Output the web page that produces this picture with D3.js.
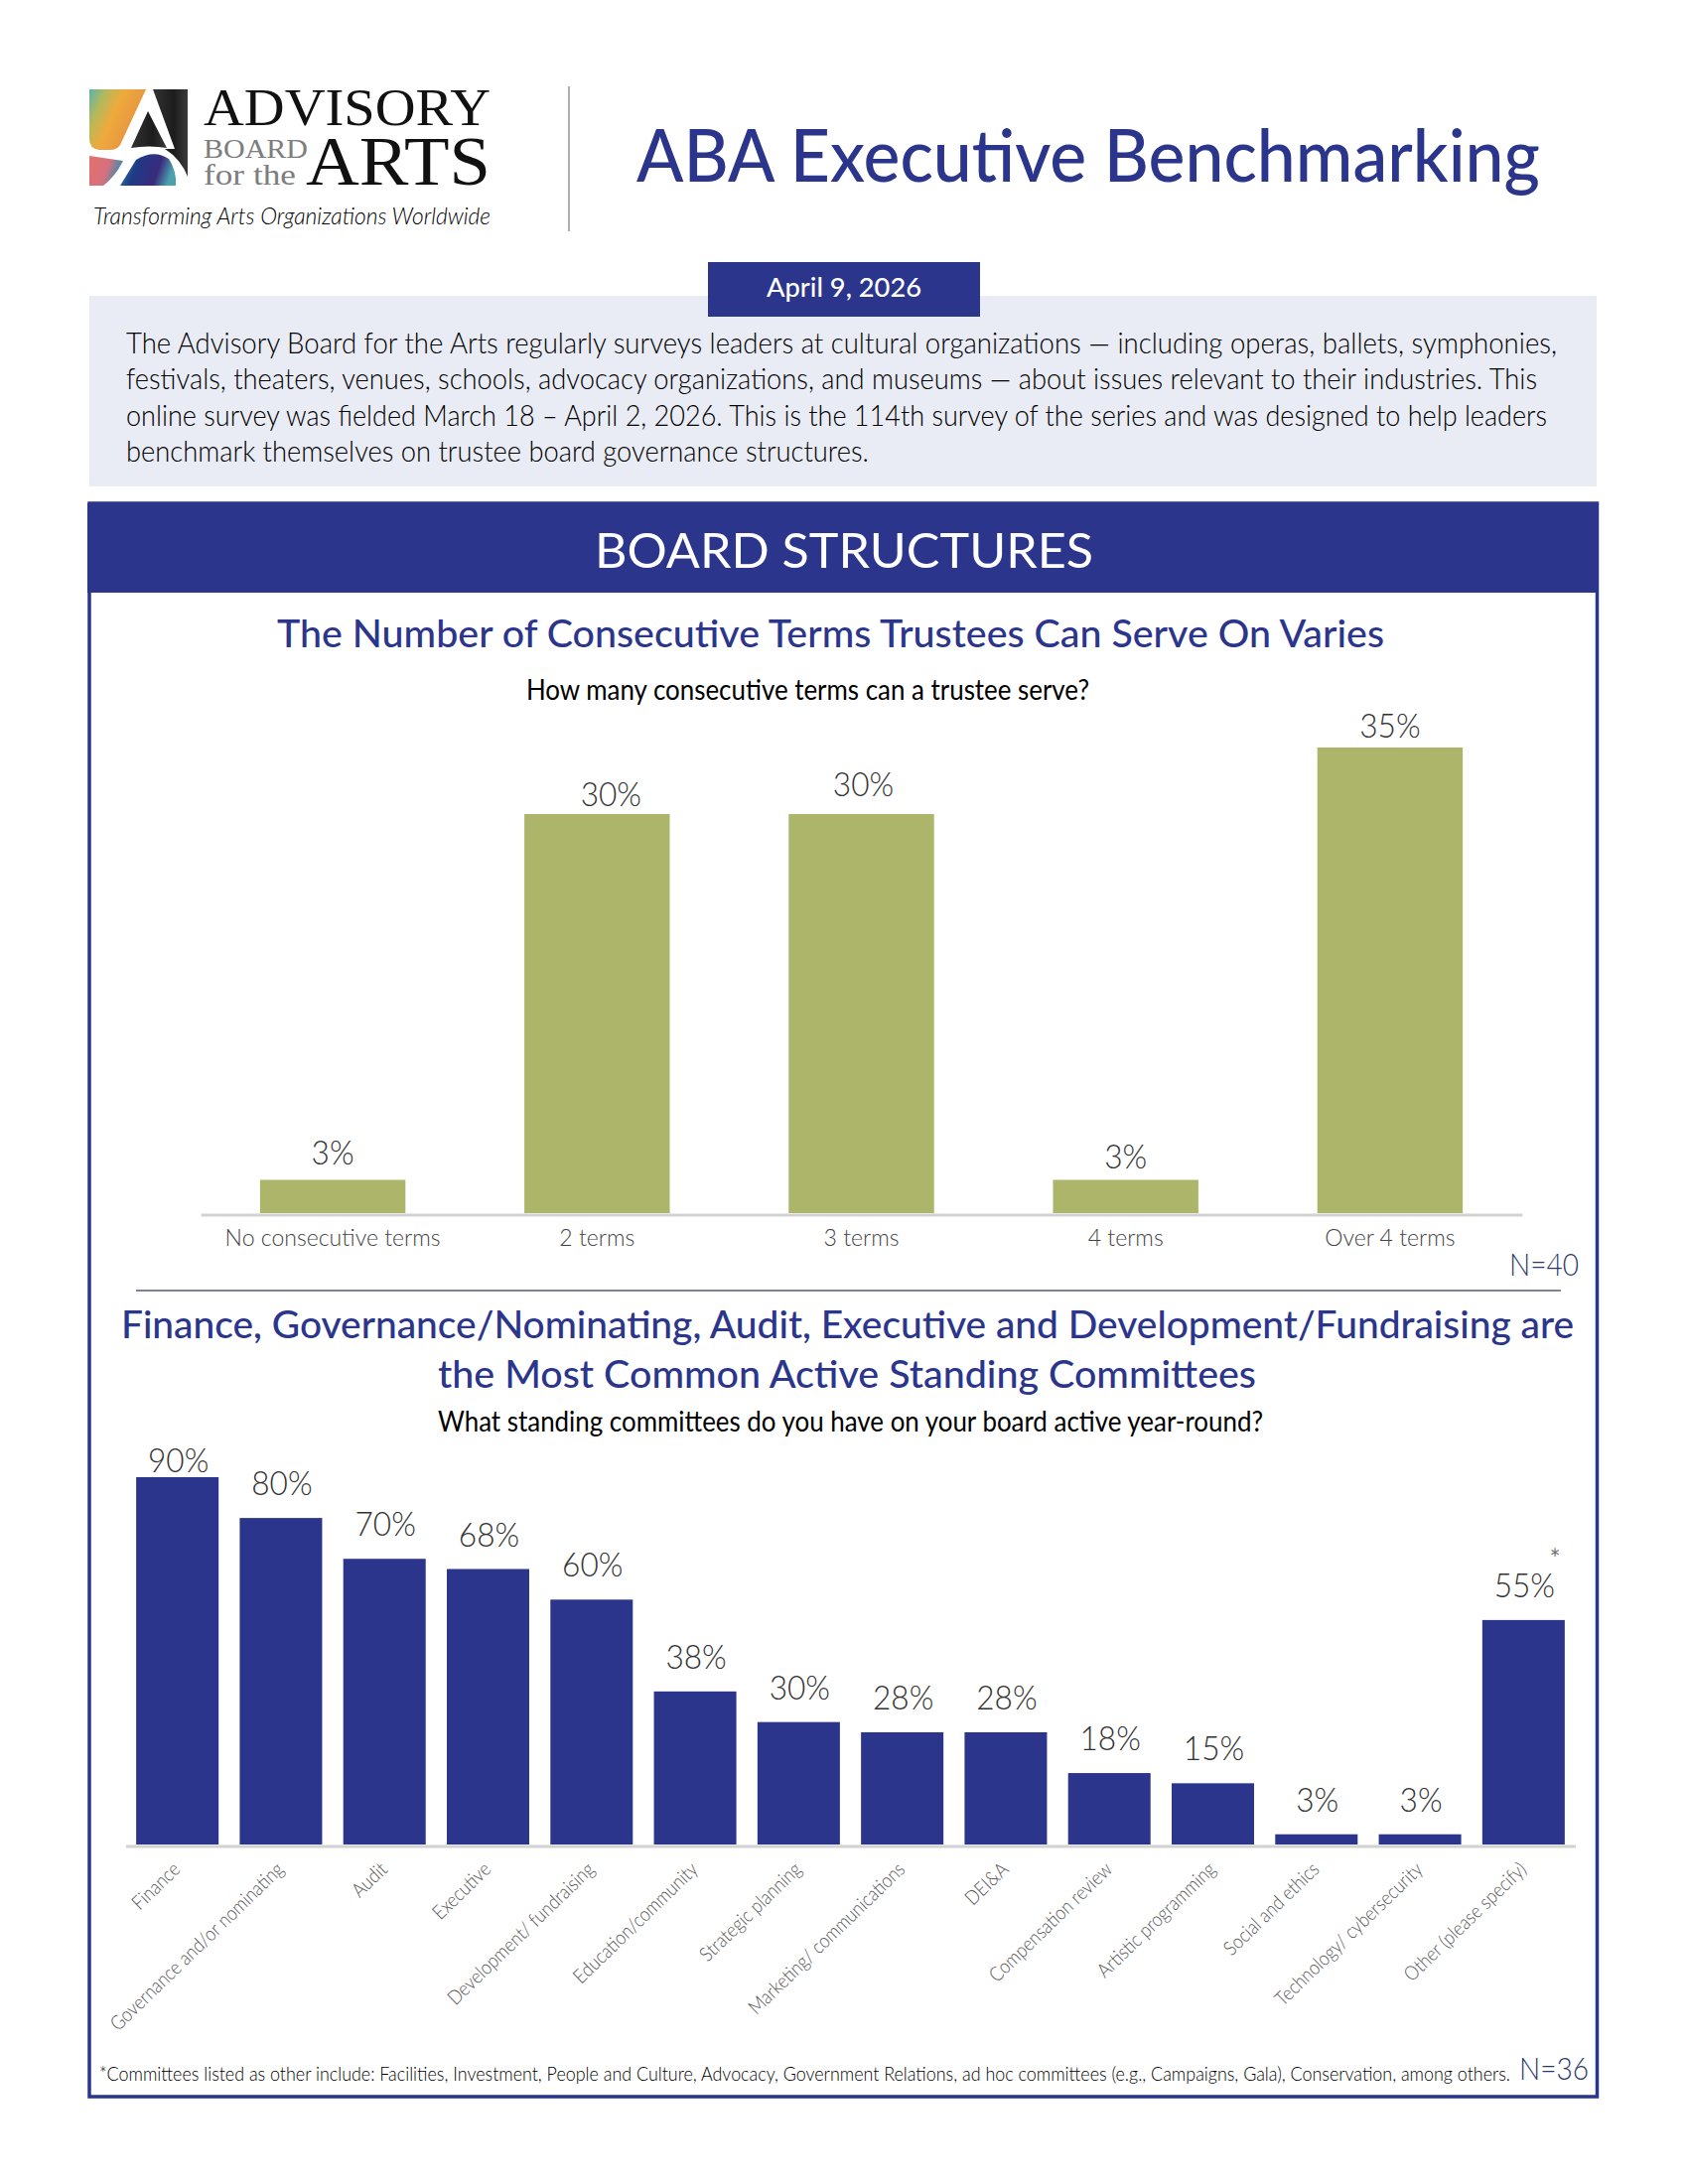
<!DOCTYPE html>
<html><head><meta charset="utf-8"><title>ABA Executive Benchmarking</title>
<script src="https://cdn.jsdelivr.net/npm/d3@7/dist/d3.min.js"></script>
<style>html,body{margin:0;padding:0;background:#fff}svg{display:block}</style></head>
<body><svg id="c" width="1700" height="2200"></svg>
<script>
const termCategories = ["No consecutive terms","2 terms","3 terms","4 terms","Over 4 terms"];
const termValues = [2.5,30,30,2.5,35];
const committeeCategories = ["Finance","Governance and/or nominating","Audit","Executive","Development/ fundraising","Education/community","Strategic planning","Marketing/ communications","DEI&A","Compensation review","Artistic programming","Social and ethics","Technology/ cybersecurity","Other (please specify)"];
const committeeValues = [90,80,70,67.5,60,37.5,30,27.5,27.5,17.5,15,2.5,2.5,55];
const paragraphLines = [
 "The Advisory Board for the Arts regularly surveys leaders at cultural organizations \u2014 including operas, ballets, symphonies,",
 "festivals, theaters, venues, schools, advocacy organizations, and museums \u2014 about issues relevant to their industries. This",
 "online survey was fielded March 18 \u2013 April 2, 2026. This is the 114th survey of the series and was designed to help leaders",
 "benchmark themselves on trustee board governance structures."];
const footnote = "*Committees listed as other include: Facilities, Investment, People and Culture, Advocacy, Government Relations, ad hoc committees (e.g., Campaigns, Gala), Conservation, among others.";

const NAVY="#2b358b", GREEN="#acb56a", F="Lato, 'Open Sans', sans-serif";
const svg=d3.select("#c");

function fit(sel,w){ sel.each(function(){ const n=this, L=n.getComputedTextLength();
  const tw = w<=3 ? L*w : w; d3.select(n).attr("textLength",tw).attr("lengthAdjust","spacingAndGlyphs"); }); return sel; }
function txt(s,x,y,size,o={}){ const t=svg.append("text").attr("x",x).attr("y",y).text(s)
  .attr("font-family",o.family||F).attr("font-size",size).attr("font-weight",o.weight||400)
  .attr("fill",o.fill||"#000").attr("text-anchor",o.anchor||"start");
  if(o.style)t.attr("font-style",o.style); if(o.width)fit(t,o.width); return t; }

/* logo */
const defs=svg.append("defs");
function grad(id,stops,x2=1,y2=1){const g=defs.append("linearGradient").attr("id",id).attr("x1",0).attr("y1",0).attr("x2",x2).attr("y2",y2);
  stops.forEach(([o,c])=>g.append("stop").attr("offset",o).attr("stop-color",c));}
grad("gA",[[0,"#5bb3a9"],[.25,"#b5b95c"],[.5,"#eeaa3c"],[1,"#e58e42"]],1,.5);
grad("gB",[[0,"#333333"],[.6,"#1c1c1c"],[1,"#3a3a3a"]],1,0);
grad("gC",[[0,"#2f8fb0"],[.35,"#1f3a86"],[.75,"#3a2a7c"],[1,"#4aa1ad"]],1,.2);
grad("gD",[[0,"#e4706a"],[.6,"#d6707f"],[1,"#2f8fb0"]],1,.3);
const logo=svg.append("g");
logo.append("path").attr("fill","url(#gA)").attr("d","M90,90 L147,90 L121,146 Q118,151 110,151 L100,151 Q90,150 90,140 Z");
logo.append("path").attr("fill","url(#gB)").attr("d","M154,90 L189,90 L189,178 Q182,160 166,150 L176,150 Z");
logo.append("path").attr("fill","url(#gB)").attr("d","M149,112 L168,149 Q150,146 132,149 Z");
logo.append("path").attr("fill","url(#gC)").attr("d","M130,187 L121,187 L137,161 Q155,150 170,160 Q178,172 177,187 L130,187 Z");
logo.append("path").attr("fill","url(#gD)").attr("d","M90,157 L124,162 Q116,178 104,187 L90,187 Z");
txt("ADVISORY",205,126,53,{family:"'Liberation Serif',serif",fill:"#111",width:289});
txt("ARTS",308,186,69,{family:"'Liberation Serif',serif",fill:"#111",width:186});
txt("BOARD",205,159,28,{family:"'Liberation Serif',serif",fill:"#7d7d7d",width:105});
txt("for the",205,186,30,{family:"'Liberation Serif',serif",fill:"#7d7d7d",width:93});
txt("Transforming Arts Organizations Worldwide",94,226,23,{style:"italic",weight:300,fill:"#000",width:400});
svg.append("line").attr("x1",573).attr("x2",573).attr("y1",87).attr("y2",233).attr("stroke","#777").attr("stroke-width",1.2);

/* header */
txt("ABA Executive Benchmarking",641,183,74,{fill:NAVY,weight:500,width:910});
svg.append("rect").attr("x",90).attr("y",298).attr("width",1518).attr("height",192).attr("fill","#e9ecf4");
svg.append("rect").attr("x",713).attr("y",264).attr("width",274).attr("height",55).attr("fill",NAVY);
txt("April 9, 2026",850,299,27,{fill:"#fff",anchor:"middle",weight:500,width:156});
const paraY=d3.scaleLinear().domain([0,3]).range([356,465]);
const paraW=[1441,1421,1431,748];
paragraphLines.forEach((l,i)=>txt(l,127,paraY(i),30,{fill:"#000",weight:300,width:paraW[i]}));

/* frame */
svg.append("rect").attr("x",90).attr("y",507).attr("width",1518.5).attr("height",1605).attr("fill","none").attr("stroke",NAVY).attr("stroke-width",3.5);
svg.append("rect").attr("x",88).attr("y",507).attr("width",1522).attr("height",90).attr("fill",NAVY);
txt("BOARD STRUCTURES",850,572,48,{fill:"#fff",anchor:"middle",weight:400,width:502});

/* chart 1 */
txt("The Number of Consecutive Terms Trustees Can Serve On Varies",836.5,652,38,{fill:NAVY,anchor:"middle",weight:500,width:1115});
txt("How many consecutive terms can a trustee serve?",813.5,705,29,{fill:"#000",anchor:"middle",weight:400,width:567});
const x1=d3.scaleBand().domain(termCategories).range([202,1533]).paddingInner(.45).paddingOuter(.225);
const y1=d3.scaleLinear().domain([0,35]).range([1222,753]);
svg.append("g").selectAll("rect").data(termValues).join("rect")
  .attr("x",(d,i)=>x1(termCategories[i])).attr("width",x1.bandwidth())
  .attr("y",d=>y1(d)).attr("height",d=>y1(0)-y1(d)).attr("fill",GREEN);
const ax1=svg.append("g").attr("transform","translate(0,1223.5)").call(d3.axisBottom(x1).tickSize(0).tickPadding(10));
ax1.select(".domain").attr("stroke","#d2d2d2").attr("stroke-width",3);
ax1.selectAll("text").attr("font-family",F).attr("font-weight",300).attr("font-size",24).attr("fill","#444").attr("dy",0).attr("y",31.5);
fit(ax1.selectAll("text"),.96);
const termDx=[0,14,2,0,0], termGap=[16,8,18,12,10];
svg.append("g").selectAll("text").data(termValues).join("text")
  .attr("x",(d,i)=>x1(termCategories[i])+x1.bandwidth()/2+termDx[i])
  .attr("y",(d,i)=>y1(d)-termGap[i]).attr("text-anchor","middle")
  .attr("font-family",F).attr("font-weight",300).attr("font-size",34).attr("fill","#333")
  .text(d=>Math.round(d)+"%").call(fit,.93);
txt("N=40",1590,1285,31,{fill:"#2b3a6b",anchor:"end",weight:300,width:70});
svg.append("line").attr("x1",137).attr("x2",1572).attr("y1",1300).attr("y2",1300).attr("stroke","#555a70").attr("stroke-width",1.5);

/* chart 2 */
txt("Finance, Governance/Nominating, Audit, Executive and Development/Fundraising are",853.5,1348,39,{fill:NAVY,anchor:"middle",weight:500,width:1463});
txt("the Most Common Active Standing Committees",853,1398,39,{fill:NAVY,anchor:"middle",weight:500,width:824});
txt("What standing committees do you have on your board active year-round?",856.5,1442,29,{fill:"#000",anchor:"middle",weight:400,width:831});
const x2=d3.scaleBand().domain(committeeCategories).range([126.5,1586.5]).paddingInner(.204).paddingOuter(.102);
const y2=d3.scaleLinear().domain([0,90]).range([1858,1488]);
svg.append("g").selectAll("rect").data(committeeValues).join("rect")
  .attr("x",(d,i)=>x2(committeeCategories[i])).attr("width",x2.bandwidth())
  .attr("y",d=>y2(d)).attr("height",d=>y2(0)-y2(d)).attr("fill",NAVY);
const ax2=svg.append("g").attr("transform","translate(0,1859.5)").call(d3.axisBottom(x2).tickSize(0));
ax2.select(".domain").attr("stroke","#d2d2d2").attr("stroke-width",3);
ax2.selectAll("text").attr("font-family",F).attr("font-weight",300).attr("font-size",20).attr("fill","#555")
  .attr("text-anchor","end").attr("dy",0).attr("y",0)
  .attr("transform","translate(4,25) rotate(-44)");
fit(ax2.selectAll("text"),.87);
const gap2=committeeValues.map((d,i)=>i===0?5:23);
svg.append("g").selectAll("text").data(committeeValues).join("text")
  .attr("x",(d,i)=>x2(committeeCategories[i])+x2.bandwidth()/2+1)
  .attr("y",(d,i)=>y2(d)-gap2[i]).attr("text-anchor","middle")
  .attr("font-family",F).attr("font-weight",300).attr("font-size",34).attr("fill","#333")
  .text(d=>Math.round(d)+"%").call(fit,.93);
txt("*",1566,1580,26,{fill:"#777",anchor:"middle",weight:400});
txt(footnote,100,2096,19.5,{fill:"#000",weight:300,width:1421});
txt("N=36",1600,2095,31,{fill:"#2b3a6b",anchor:"end",weight:300,width:70});
</script></body></html>
